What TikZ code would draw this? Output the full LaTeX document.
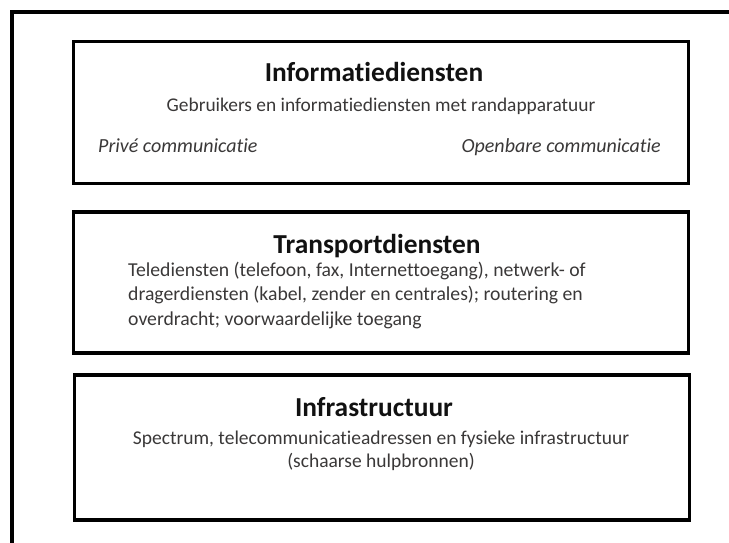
\documentclass[tikz,border=0pt]{standalone}
\usepackage{fontspec}
\setmainfont{Carlito}[Ligatures=NoCommon]
\definecolor{bodytext}{HTML}{3A3838}
\definecolor{titletext}{HTML}{111111}
\begin{document}
\begin{tikzpicture}[x=1pt,y=-1pt,
  frame/.style={line width=3.5pt,black},
  layerbox/.style={draw=black,line width=3.6pt,minimum width=615pt,inner sep=0pt},
  title/.style={inner sep=0pt,anchor=base,text=titletext,font=\fontsize{27.4}{30}\selectfont\bfseries},
  body/.style={inner sep=0pt,text=bodytext,font=\fontsize{19.7}{24.5}\selectfont},
  note/.style={inner sep=0pt,text=bodytext,font=\fontsize{20}{24}\selectfont\itshape}]
\useasboundingbox (0,0) rectangle (729,543);
\coordinate (fbl) at (12,545);
\coordinate (ftr) at (731,12);
\draw[frame] (fbl) |- (ftr);

\node[layerbox,minimum height=142pt] (info) at (381,112.5) {};
\node[layerbox,minimum height=141pt] (trans) at (381,282.5) {};
\node[layerbox,minimum height=145pt] (infra) at (382,447.5) {};

\node[title] (infot) at (374,82) {Informatiediensten};
\node[body,anchor=base,font=\fontsize{19.4}{22}\selectfont] (infob) at (381,111) {Gebruikers en informatiediensten met randapparatuur};
\node[note,anchor=base west] (prive) at (98,152) {Privé communicatie};
\node[note,anchor=base east] (openb) at (661,152) {Openbare communicatie};

\node[title] (transt) at (377,253) {Transportdiensten};
\node[body,align=left,anchor=base west] (transb) at (128,325) {Telediensten (telefoon, fax, Internettoegang), netwerk- of\\dragerdiensten (kabel, zender en centrales); routering en\\overdracht; voorwaardelijke toegang};

\node[title] (infrat) at (374,416) {Infrastructuur};
\node[body,align=center,anchor=base,font=\fontsize{19.5}{22.5}\selectfont] (infrab) at (381,467) {Spectrum, telecommunicatieadressen en fysieke infrastructuur\\(schaarse hulpbronnen)};
\end{tikzpicture}
\end{document}
